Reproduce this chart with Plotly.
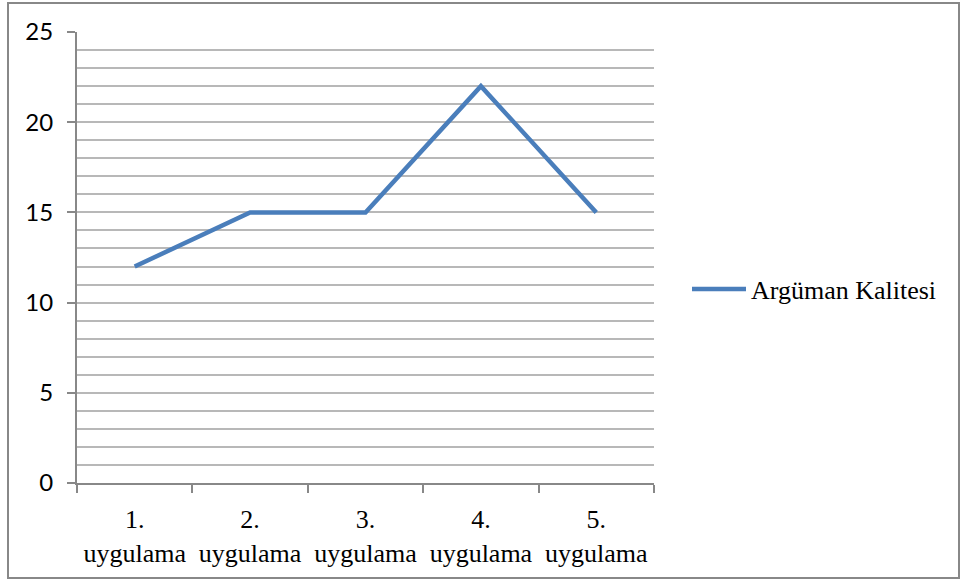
import plotly.graph_objects as go

categories = ["1.<br>uygulama", "2.<br>uygulama", "3.<br>uygulama", "4.<br>uygulama", "5.<br>uygulama"]
series_name = "Argüman Kalitesi"
values = [12, 15, 15, 22, 15]
y_ticks = [0, 5, 10, 15, 20, 25]

W, H = 961, 580
L, R, T, B = 77, 654, 32, 483
pw, ph = R - L, B - T

xpos = list(range(1, len(categories) + 1))

fig = go.Figure()
fig.add_trace(go.Scatter(
    x=xpos, y=values, mode="lines", name=series_name,
    line=dict(color="#4a7ebb", width=4.5),
))

fig.update_layout(
    width=W, height=H,
    margin=dict(l=L, r=W - R, t=T, b=H - B, autoexpand=False),
    paper_bgcolor="white", plot_bgcolor="white",
    showlegend=True,
    legend=dict(x=(687 - L) / pw, y=(B - 289) / ph, xanchor="left", yanchor="middle",
                itemwidth=54,
                font=dict(family="Liberation Serif", size=26, color="black"),
                bgcolor="rgba(0,0,0,0)"),
    xaxis=dict(
        range=[0.5, len(categories) + 0.5],
        tickvals=xpos, ticktext=categories, ticks="",
        tickfont=dict(family="Liberation Serif", size=26, color="black"),
        showgrid=False, zeroline=False,
        showline=True, linecolor="#888888", linewidth=2,
        ticklabelstandoff=12,
        minor=dict(tickvals=[i + 0.5 for i in range(0, len(categories) + 1)],
                   ticks="outside", ticklen=8, tickcolor="#888888", tickwidth=2,
                   showgrid=False),
    ),
    yaxis=dict(
        range=[0, 25], tickvals=y_ticks,
        ticks="outside", ticklen=8, tickcolor="#888888", tickwidth=2,
        tickfont=dict(family="Lato", size=24, color="black"),
        showgrid=True, gridcolor="#b8b8b8", gridwidth=1.5,
        zeroline=False,
        showline=True, linecolor="#888888", linewidth=2,
        ticklabelstandoff=9,
        minor=dict(dtick=1, showgrid=True, gridcolor="#b8b8b8", gridwidth=1.5, ticks=""),
    ),
    shapes=[dict(type="rect", xref="paper", yref="paper",
                 x0=(8 - L) / pw, x1=(959 - L) / pw,
                 y0=(B - 578) / ph, y1=(B - 3) / ph,
                 line=dict(color="#888888", width=2), fillcolor="rgba(0,0,0,0)",
                 layer="below")],
)

fig.write_html("out.html", config={"displayModeBar": False},
               post_script="document.body.style.margin='0';")
